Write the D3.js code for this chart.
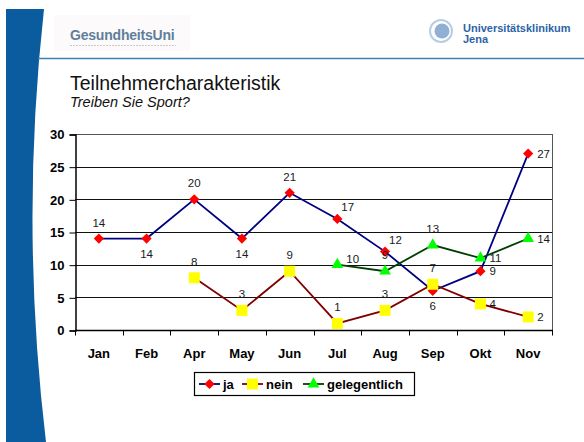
<!DOCTYPE html>
<html lang="de">
<head>
  <meta charset="UTF-8">
  <title>Teilnehmercharakteristik</title>
  <script src="https://d3js.org/d3.v7.min.js"></script>
  <style>
    body { margin: 0; padding: 0; background: #fff; }
    svg { display: block; font-family: Arial, "Liberation Sans", sans-serif; }
    .ytick { font-size: 13px; font-weight: bold; fill: #000; }
    .xtick { font-size: 13px; font-weight: bold; fill: #000; }
    .val { font-size: 11.5px; }
  </style>
</head>
<body>
<div id="chart"></div>
<script>
  const months = ["Jan", "Feb", "Apr", "May", "Jun", "Jul", "Aug", "Sep", "Okt", "Nov"];
  const ja = [14, 14, 20, 14, 21, 17, 12, 6, 9, 27];
  const nein = [null, null, 8, 3, 9, 1, 3, 7, 4, 2];
  const gelegentlich = [null, null, null, null, null, 10, 9, 13, 11, 14];
  const yTicks = [0, 5, 10, 15, 20, 25, 30];

  // where each value label sits relative to its marker
  const jaPos = ["t", "b", "t", "b", "t", "tr", "tr", "b", "r", "r"];
  const neinPos = [null, null, "t", "t", "t", "t", "t", "t", "r", "r"];
  const gelPos = [null, null, null, null, null, "tr2", "t", "t", "r", "r"];

  const series = [
    { name: "ja", values: ja, pos: jaPos, line: "#000080", fill: "#ff0000", shape: "diamond" },
    { name: "nein", values: nein, pos: neinPos, line: "#800000", fill: "#ffff00", shape: "square" },
    { name: "gelegentlich", values: gelegentlich, pos: gelPos, line: "#003f00", fill: "#00ff00", shape: "triangle" }
  ];

  const W = 584, H = 442;
  const plot = { left: 75, right: 552, top: 134, bottom: 330 };

  const svg = d3.select("#chart").append("svg")
    .attr("width", W).attr("height", H);

  // slide decoration: blue curved bar on the left
  svg.append("path")
    .attr("d", "M6,9 L44,9 Q20,225 46,442 L6,442 Z")
    .attr("fill", "#0a5c9e");

  // rule under the logos
  svg.append("line")
    .attr("x1", 38).attr("x2", W).attr("y1", 58.5).attr("y2", 58.5)
    .attr("stroke", "#3a82b5").attr("stroke-width", 1.5);

  // left logo
  svg.append("rect").attr("x", 54).attr("y", 15).attr("width", 136).attr("height", 36)
    .attr("fill", "#fcfafa");
  svg.append("text").attr("x", 70).attr("y", 40)
    .attr("font-size", 14).attr("font-weight", "bold").attr("fill", "#5f7f9a")
    .attr("letter-spacing", -0.2)
    .text("GesundheitsUni");
  svg.append("line").attr("x1", 70).attr("x2", 176).attr("y1", 45.5).attr("y2", 45.5)
    .attr("stroke", "#c9c9c9").attr("stroke-width", 1).attr("stroke-dasharray", "2,1");

  // right logo
  svg.append("circle").attr("cx", 441).attr("cy", 31).attr("r", 11)
    .attr("fill", "none").attr("stroke", "#b7cde3").attr("stroke-width", 2);
  svg.append("circle").attr("cx", 442).attr("cy", 31).attr("r", 7.5)
    .attr("fill", "#8fb0d2");
  svg.append("text").attr("x", 463).attr("y", 32)
    .attr("font-size", 11).attr("font-weight", "bold").attr("fill", "#2c63a8")
    .text("Universitätsklinikum");
  svg.append("text").attr("x", 463).attr("y", 43)
    .attr("font-size", 11).attr("font-weight", "bold").attr("fill", "#2c63a8")
    .text("Jena");

  // title
  svg.append("text").attr("x", 70).attr("y", 90)
    .attr("font-size", 19.5).attr("fill", "#111")
    .text("Teilnehmercharakteristik");
  svg.append("text").attr("x", 70).attr("y", 107)
    .attr("font-size", 14.5).attr("font-style", "italic").attr("fill", "#111")
    .text("Treiben Sie Sport?");

  // scales
  const x = d3.scaleBand().domain(months).range([plot.left, plot.right]).padding(0);
  const y = d3.scaleLinear().domain([0, 30]).range([plot.bottom, plot.top]);
  const cx = m => x(m) + x.bandwidth() / 2;

  // gridlines
  svg.append("g").selectAll("line")
    .data(yTicks.filter(t => t > 0))
    .join("line")
    .attr("x1", plot.left).attr("x2", plot.right)
    .attr("y1", d => Math.round(y(d)) + 0.5).attr("y2", d => Math.round(y(d)) + 0.5)
    .attr("stroke", d => d === 30 ? "#555" : "#111").attr("stroke-width", 1);

  // right border
  svg.append("line")
    .attr("x1", plot.right + 0.5).attr("x2", plot.right + 0.5)
    .attr("y1", plot.top).attr("y2", plot.bottom)
    .attr("stroke", "#555");

  // y axis
  const yAxis = svg.append("g")
    .attr("transform", `translate(${plot.left + 0.5},0.5)`)
    .call(d3.axisLeft(y).tickValues(yTicks).tickSize(6).tickPadding(5));
  yAxis.select(".domain").attr("stroke", "#000").attr("stroke-width", 1.5);
  yAxis.selectAll(".tick line").attr("stroke", "#000");
  yAxis.selectAll(".tick text").attr("class", "ytick").attr("font-size", null).attr("font-family", null);

  // x axis: ticks at band boundaries
  const xAxis = svg.append("g").attr("transform", `translate(0,${plot.bottom + 0.5})`);
  xAxis.append("line").attr("x1", plot.left).attr("x2", plot.right + 1)
    .attr("stroke", "#000").attr("stroke-width", 1.5);
  const bounds = months.map(m => x(m)).concat([plot.right]);
  xAxis.selectAll(".xt").data(bounds).join("line").attr("class", "xt")
    .attr("x1", d => Math.round(d) + 0.5).attr("x2", d => Math.round(d) + 0.5)
    .attr("y1", 0).attr("y2", 5).attr("stroke", "#000");
  xAxis.selectAll(".xtick").data(months).join("text").attr("class", "xtick")
    .attr("x", d => cx(d)).attr("y", 27).attr("text-anchor", "middle")
    .text(d => d);

  // markers
  const symbolFor = shape => {
    if (shape === "diamond") return d3.symbol().type(d3.symbolSquare).size(52)();
    if (shape === "square") return d3.symbol().type(d3.symbolSquare).size(121)();
    return d3.symbol().type(d3.symbolTriangle).size(60)();
  };
  const rotFor = shape => shape === "diamond" ? 45 : 0;

  const offsets = {
    t: [0, -12, "middle"],
    b: [0, 19, "middle"],
    tr: [4, -8, "start"],
    tr2: [9, -2, "start"],
    r: [9, 4, "start"]
  };

  series.forEach(s => {
    const pts = months.map((m, i) => ({ m, v: s.values[i], p: s.pos[i] }))
      .filter(d => d.v !== null);

    svg.append("path")
      .datum(pts)
      .attr("fill", "none")
      .attr("stroke", s.line)
      .attr("stroke-width", 1.8)
      .attr("d", d3.line().x(d => cx(d.m)).y(d => y(d.v)));

    svg.append("g").selectAll("path")
      .data(pts)
      .join("path")
      .attr("d", symbolFor(s.shape))
      .attr("transform", d => `translate(${cx(d.m)},${y(d.v)}) rotate(${rotFor(s.shape)})`)
      .attr("fill", s.fill);

    svg.append("g").selectAll("text")
      .data(pts)
      .join("text")
      .attr("class", "val")
      .attr("fill", "#1a1a1a")
      .attr("x", d => cx(d.m) + offsets[d.p][0])
      .attr("y", d => y(d.v) + offsets[d.p][1])
      .attr("text-anchor", d => offsets[d.p][2])
      .text(d => d.v);
  });

  // legend
  const legend = svg.append("g").attr("transform", "translate(194,372)");
  legend.append("rect").attr("x", 0.5).attr("y", 0.5).attr("width", 220).attr("height", 23)
    .attr("fill", "#fff").attr("stroke", "#000").attr("stroke-width", 1.2);
  const legendX = [5, 48, 109];
  series.forEach((s, i) => {
    const g = legend.append("g").attr("transform", `translate(${legendX[i]},12)`);
    g.append("line").attr("x1", 0).attr("x2", 21).attr("y1", 0).attr("y2", 0)
      .attr("stroke", s.line).attr("stroke-width", 1.8);
    g.append("path").attr("d", symbolFor(s.shape))
      .attr("transform", `translate(10.5,0) rotate(${rotFor(s.shape)})`)
      .attr("fill", s.fill);
    g.append("text").attr("x", 24).attr("y", 5)
      .attr("font-size", 13).attr("font-weight", "bold").attr("fill", "#000")
      .text(s.name);
  });
</script>
</body>
</html>
